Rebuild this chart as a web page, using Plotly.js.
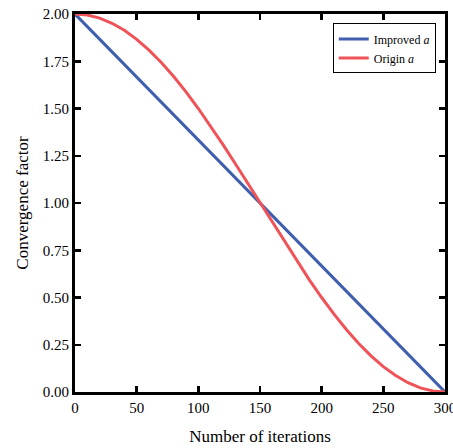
<!DOCTYPE html>
<html>
<head>
<meta charset="utf-8">
<script src="https://cdn.plot.ly/plotly-3.0.1.min.js"></script>
<style>
html,body{margin:0;padding:0;background:#fff;}
#chart{width:453px;height:448px;}
</style>
</head>
<body>
<div id="chart"></div>
<script>
var iterations = [0,10,20,30,40,50,60,70,80,90,100,110,120,130,140,150,160,170,180,190,200,210,220,230,240,250,260,270,280,290,300];
var improvedA = [2.0,1.9333,1.8667,1.8,1.7333,1.6667,1.6,1.5333,1.4667,1.4,1.3333,1.2667,1.2,1.1333,1.0667,1.0,0.9333,0.8667,0.8,0.7333,0.6667,0.6,0.5333,0.4667,0.4,0.3333,0.2667,0.2,0.1333,0.0667,0.0];
var originA = [2.0,1.995,1.978,1.951,1.914,1.866,1.809,1.743,1.669,1.588,1.5,1.407,1.309,1.208,1.105,1.0,0.896,0.792,0.691,0.593,0.5,0.412,0.331,0.257,0.191,0.134,0.087,0.049,0.022,0.006,0.0];
var seriesNames = ['Improved <i>a</i>', 'Origin <i>a</i>'];
var xTitle = 'Number of iterations';
var yTitle = 'Convergence factor';

var font = 'Liberation Serif, serif';
var traces = [
  {x: iterations, y: improvedA, name: seriesNames[0], mode: 'lines', line: {color: '#3F5FAE', width: 3}},
  {x: iterations, y: originA, name: seriesNames[1], mode: 'lines', line: {color: '#EF5358', width: 3}}
];
var axisCommon = {
  showline: true, linecolor: '#000', linewidth: 3, mirror: 'allticks',
  ticks: 'inside', ticklen: 6, tickwidth: 2.5, tickcolor: '#000',
  showgrid: false, zeroline: false, ticklabeloverflow: 'allow',
  tickfont: {family: font, size: 15, color: '#000'}
};
var layout = {
  width: 453, height: 448,
  margin: {l: 75, r: 8, t: 14, b: 56},
  paper_bgcolor: '#fff', plot_bgcolor: '#fff',
  font: {family: font, color: '#000'},
  showlegend: true,
  legend: {x: 0.975, y: 0.975, xanchor: 'right', yanchor: 'top', bordercolor: '#000', borderwidth: 1,
           font: {family: font, size: 12, color: '#000'}, bgcolor: '#fff', tracegroupgap: 0},
  xaxis: Object.assign({}, axisCommon, {range: [0, 300], dtick: 50, tick0: 0,
          title: {text: xTitle, font: {family: font, size: 17}, standoff: 16}}),
  yaxis: Object.assign({}, axisCommon, {range: [0, 2], dtick: 0.25, tick0: 0, tickformat: '.2f',
          title: {text: yTitle, font: {family: font, size: 17}, standoff: 10}})
};
Plotly.newPlot('chart', traces, layout, {displayModeBar: false, staticPlot: true});
</script>
</body>
</html>
